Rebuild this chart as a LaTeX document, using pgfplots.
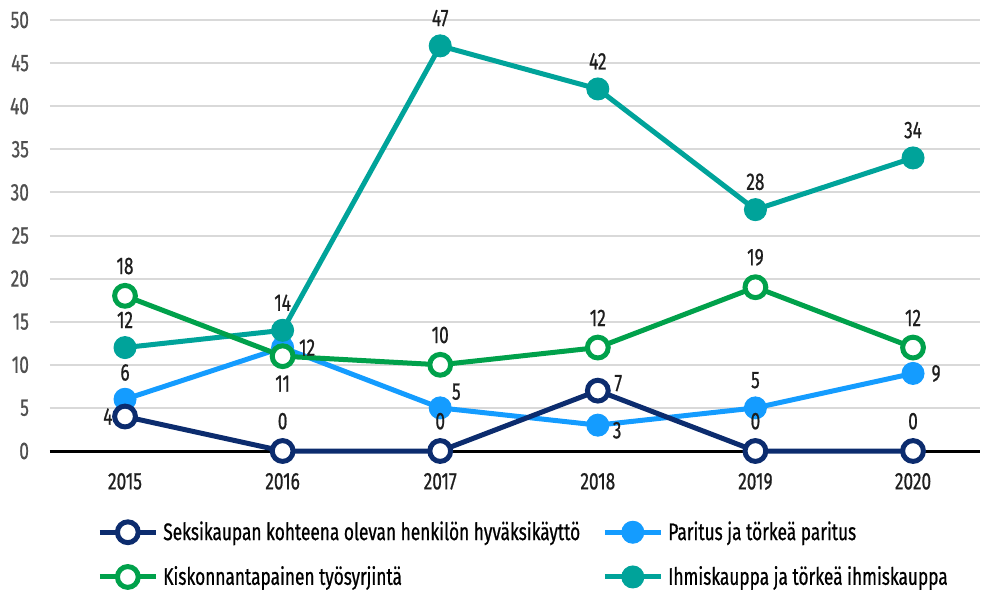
\documentclass[border=0pt]{standalone}
\usepackage{fontspec}
\setmainfont{Fira Sans}[FakeStretch=0.72, FakeBold=0.7]
\usepackage{pgfplots}
\pgfplotsset{compat=1.18}
\usepackage{pgfplotstable}

\definecolor{navy}{RGB}{12,44,110}
\definecolor{lblue}{RGB}{20,156,255}
\definecolor{lgreen}{RGB}{0,161,75}
\definecolor{lteal}{RGB}{0,163,154}
\definecolor{gridgray}{RGB}{217,217,217}
\definecolor{ticktext}{RGB}{80,80,80}
\definecolor{labtext}{RGB}{30,30,30}

% x y anchor-angle distance(pt)
\pgfplotstableread{
x y a d
0 4 0 5
1 0 270 9.5
2 0 270 9.5
3 7 200 7.5
4 0 270 9.5
5 0 270 9.5
}\navydata
\pgfplotstableread{
x y a d
0 6 270 9
1 12 180 8
2 5 225 8
3 3 165 7.5
4 5 270 9.5
5 9 180 9
}\bluedata
\pgfplotstableread{
x y a d
0 18 270 9.5
1 11 90 8.5
2 10 270 9.5
3 12 270 9.5
4 19 270 9.5
5 12 270 9.5
}\greendata
\pgfplotstableread{
x y a d
0 12 270 9.5
1 14 270 9.5
2 47 270 9.5
3 42 270 9.5
4 28 270 9.5
5 34 270 9.5
}\tealdata

\pgfplotsset{
  labs/.style={
    nodes near coords,
    visualization depends on={\thisrow{a}\as\anc},
    visualization depends on={\thisrow{d}\as\dst},
    every node near coord/.append style={font=\fontsize{12}{14}\selectfont, text=labtext, inner sep=0pt,
       anchor=\anc, shift={({\anc+180}:{\dst*1pt})}},
  },
}

\begin{document}
\begin{tikzpicture}
\begin{axis}[
  scale only axis, width=465pt, height=215.5pt,
  xmin=-0.476, xmax=5.425, ymin=0, ymax=50,
  clip=false,
  /pgf/number format/assume math mode=true,
  font=\fontsize{12}{14}\selectfont,
  xtick={0,1,2,3,4,5},
  xticklabels={2015,2016,2017,2018,2019,2020},
  ytick={0,5,...,50},
  major tick length=0pt,
  axis line style={draw=none},
  ymajorgrids,
  grid style={line width=1pt, color=gridgray},
  extra y ticks={0},
  extra y tick labels={},
  extra y tick style={grid style={line width=1.5pt, color=black}},
  yticklabel style={xshift=-7pt, text=ticktext},
  xticklabel style={yshift=-7.5pt, text=labtext},
  legend columns=2,
  legend cell align=left,
  legend style={draw=none, fill=none, at={(0.044,-0.1415)}, anchor=north west,
     font=\fontsize{12}{14}\selectfont, row sep=6.5pt,
     nodes={inner sep=2.5pt}},
  legend image code/.code={\draw[mark repeat=2,mark phase=2,#1] plot coordinates {(0pt,0pt) (14pt,0pt) (28pt,0pt)};},
  navystyle/.style={color=navy, line width=2.5pt, mark=*, mark size=5.2pt, mark options={fill=white, draw=navy, line width=2.5pt}},
  bluestyle/.style={color=lblue, line width=2.5pt, mark=*, mark size=5.5pt, mark options={fill=lblue, draw=lblue, line width=0.5pt}},
  greenstyle/.style={color=lgreen, line width=2.5pt, mark=*, mark size=5.2pt, mark options={fill=white, draw=lgreen, line width=2.5pt}},
  tealstyle/.style={color=lteal, line width=2.5pt, mark=*, mark size=5.5pt, mark options={fill=lteal, draw=lteal, line width=0.5pt}},
]
\addlegendimage{navystyle}
\addlegendentry{\makebox[217pt][l]{Seksikaupan kohteena olevan henkilön hyväksikäyttö}}
\addlegendimage{bluestyle}
\addlegendentry{Paritus ja törkeä paritus}
\addlegendimage{greenstyle}
\addlegendentry{\makebox[217pt][l]{Kiskonnantapainen työsyrjintä}}
\addlegendimage{tealstyle}
\addlegendentry{Ihmiskauppa ja törkeä ihmiskauppa}

\addplot[bluestyle, labs, forget plot] table[x=x, y=y] {\bluedata};
\addplot[tealstyle, labs, forget plot] table[x=x, y=y] {\tealdata};
\addplot[greenstyle, labs, forget plot] table[x=x, y=y] {\greendata};
\addplot[navystyle, labs, forget plot] table[x=x, y=y] {\navydata};
\end{axis}
\pgfresetboundingbox
\path (-25pt,-69pt) rectangle (466.5pt,225.5pt);
\end{tikzpicture}
\end{document}
